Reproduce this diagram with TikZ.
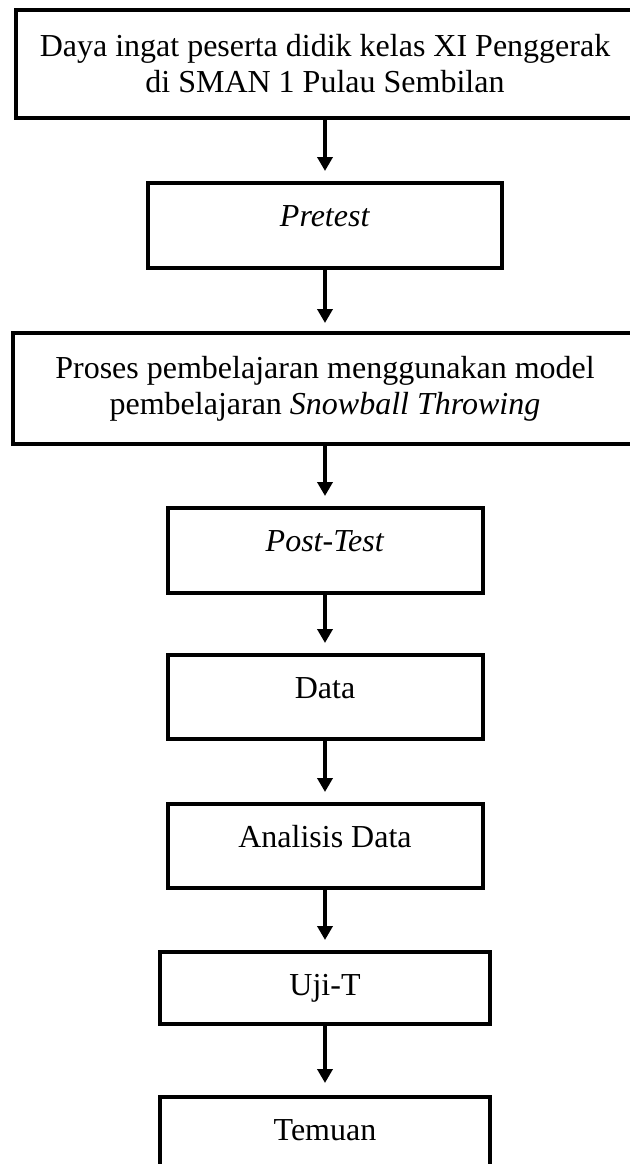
\documentclass[tikz,border=0pt]{standalone}
\usepackage{fontspec}
\setmainfont{Liberation Serif}
\usetikzlibrary{arrows.meta}

\begin{document}
\begin{tikzpicture}[x=0.5pt,y=-0.5pt]
\tikzstyle{every node}=[font=\fontsize{16}{18}\selectfont]
\tikzstyle{kotak}=[draw, line width=2pt, anchor=north, inner sep=0pt, outer sep=0pt, align=center]
\tikzstyle{isi}=[kotak, text height=21.8pt]
\tikzstyle{panah}=[-{Triangle[length=7pt,width=7.5pt]}, line width=2pt]
\useasboundingbox (0,0) rectangle (630,1164);

\node[kotak, minimum width=309pt, minimum height=54pt] (daya) at (325,10)
	{Daya ingat peserta didik kelas XI Penggerak\\ di SMAN 1 Pulau Sembilan};
\node[isi, minimum width=177pt, text depth=20.7pt] (pretest) at (325,183) {\textit{Pretest}};
\node[kotak, minimum width=312pt, minimum height=55.5pt] (proses) at (325,333)
	{Proses pembelajaran menggunakan model\\ pembelajaran \textit{Snowball Throwing}};
\node[isi, minimum width=157.5pt, text depth=20.7pt] (posttest) at (325,508) {\textit{Post-Test}};
\node[isi, minimum width=157.5pt, text depth=20.2pt] (data) at (325,655) {Data};
\node[isi, minimum width=157.5pt, text depth=20.2pt] (analisis) at (325,804) {Analisis Data};
\node[isi, minimum width=165pt, text depth=14.2pt] (ujit) at (325,952) {Uji-T};
\node[isi, minimum width=165pt, text depth=23.2pt] (temuan) at (325,1097) {Temuan};

\draw[panah] (daya.south) -- ([yshift=6pt]pretest.north);
\draw[panah] (pretest.south) -- ([yshift=5pt]proses.north);
\draw[panah] (proses.south) -- ([yshift=6pt]posttest.north);
\draw[panah] (posttest.south) -- ([yshift=6pt]data.north);
\draw[panah] (data.south) -- ([yshift=6pt]analisis.north);
\draw[panah] (analisis.south) -- ([yshift=6pt]ujit.north);
\draw[panah] (ujit.south) -- ([yshift=7pt]temuan.north);
\end{tikzpicture}
\end{document}
